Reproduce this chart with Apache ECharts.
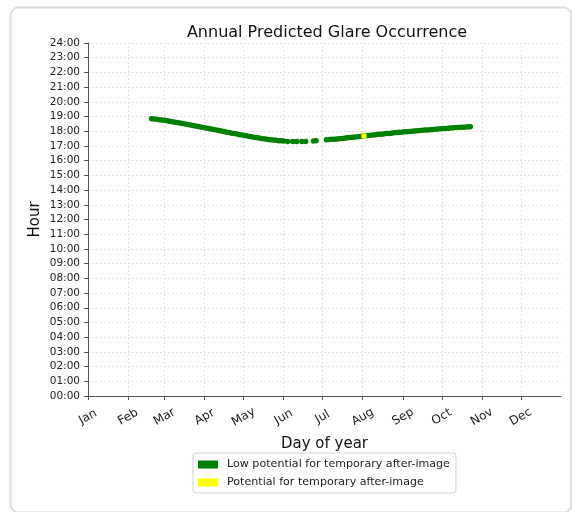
<!DOCTYPE html>
<html>
<head>
<meta charset="utf-8">
<script src="https://cdn.jsdelivr.net/npm/echarts@6/dist/echarts.min.js"></script>
<style>html,body{margin:0;padding:0;background:#fff;}#c{width:572px;height:512px;}</style>
</head>
<body>
<div id="c"></div>
<script>
var monthLabels = ['Jan','Feb','Mar','Apr','May','Jun','Jul','Aug','Sep','Oct','Nov','Dec'];
var monthStarts = [0,31,59,90,120,151,181,212,243,273,304,334];

var greenDays = [49,51,53,55,57,59,61,63,65,67,69,71,73,75,77,79,81,83,85,87,89,91,93,95,97,99,101,103,105,107,109,111,113,115,117,119,121,123,125,127,129,131,133,135,137,139,141,143,145,147,149,151,
  154,158,161,165,168,174,176,184,186,188,190,192,
  194,196,198,200,202,204,206,208,210,212,214,216,218,220,222,224,226,228,230,232,234,236,238,240,242,244,246,248,250,252,254,256,258,260,262,264,266,268,270,272,274,276,278,280,282,284,286,288,290,292,294,295];
var greenHours = [18.85,18.83,18.81,18.79,18.76,18.74,18.71,18.68,18.65,18.62,18.59,18.56,18.53,18.49,18.46,18.43,18.39,18.36,18.33,18.29,18.26,18.22,18.19,18.15,18.12,18.08,18.05,18.01,17.98,17.94,17.91,17.87,17.84,17.81,17.77,17.74,17.71,17.67,17.64,17.61,17.58,17.55,17.52,17.49,17.47,17.44,17.42,17.40,17.38,17.36,17.35,17.33,
  17.31,17.30,17.30,17.30,17.30,17.33,17.36,17.43,17.44,17.45,17.46,17.47,
  17.49,17.51,17.53,17.55,17.57,17.59,17.61,17.63,17.65,17.67,17.69,17.71,17.73,17.75,17.77,17.79,17.80,17.82,17.84,17.85,17.87,17.89,17.91,17.93,17.94,17.96,17.97,17.99,18.00,18.02,18.03,18.05,18.06,18.08,18.09,18.11,18.12,18.14,18.15,18.17,18.18,18.19,18.21,18.22,18.23,18.25,18.26,18.27,18.28,18.29,18.30,18.31];
var yellowDays = [213];
var yellowHours = [17.68];

var seriesNames = ['Low potential for temporary after-image','Potential for temporary after-image'];

function pairs(xs, ys){ var out=[]; for (var i=0;i<xs.length;i++) out.push([xs[i], ys[i]]); return out; }

var chart = echarts.init(document.getElementById('c'), null, {renderer:'canvas'});
var FONT = 'DejaVu Sans';
var GRID = '#e2e2e2';
chart.setOption({
  animation: false,
  backgroundColor: '#fff',
  textStyle: {fontFamily: FONT},
  graphic: [{
    type: 'rect', left: 8, top: 5, z: -10,
    shape: {width: 561, height: 505, r: 8},
    style: {fill: 'none', stroke: '#dcdcdc', lineWidth: 2}
  }],
  title: {
    text: 'Annual Predicted Glare Occurrence',
    left: 322, top: 20, textAlign: 'center',
    textStyle: {fontFamily: FONT, fontSize: 16, fontWeight: 'normal', color: '#111'}
  },
  grid: {left: 88, right: 11, top: 43, bottom: 116, containLabel: false},
  xAxis: {
    type: 'value', min: 0, max: 365,
    name: 'Day of year', nameLocation: 'middle', nameGap: 41,
    nameTextStyle: {fontFamily: FONT, fontSize: 15, color: '#111'},
    axisLine: {show: true, lineStyle: {color: '#555', width: 1}},
    axisTick: {show: true, length: 4, lineStyle: {color: '#555'}, customValues: monthStarts},
    axisLabel: {
      customValues: monthStarts,
      rotate: 30, align: 'center', verticalAlign: 'middle', margin: 21,
      fontFamily: FONT, fontSize: 12, color: '#222',
      formatter: function(v){ var i = monthStarts.indexOf(Math.round(v)); return i >= 0 ? monthLabels[i] : ''; }
    },
    splitLine: {show: false}
  },
  yAxis: {
    type: 'value', min: 0, max: 24, interval: 1,
    name: 'Hour', nameLocation: 'middle', nameGap: 45, nameRotate: 90, nameMoveOverlap: false,
    nameTextStyle: {fontFamily: FONT, fontSize: 15, color: '#111'},
    axisLine: {show: true, lineStyle: {color: '#555', width: 1}},
    axisTick: {show: true, length: 4, lineStyle: {color: '#555'}},
    axisLabel: {
      fontFamily: FONT, fontSize: 10.5, color: '#222', margin: 8,
      formatter: function(v){ var h = Math.round(v); return (h < 10 ? '0' : '') + h + ':00'; }
    },
    splitLine: {show: true, lineStyle: {color: GRID, type: [2, 2], width: 1}}
  },
  legend: {
    orient: 'vertical', left: 193, top: 453,
    borderColor: '#d0d0d0', borderWidth: 1, borderRadius: 3,
    padding: [6, 6, 5, 5], itemGap: 7, itemWidth: 20, itemHeight: 8,
    textStyle: {fontFamily: FONT, fontSize: 11.1, color: '#222', padding: [0, 0, 0, 4]},
    data: [{name: seriesNames[0], icon: 'rect'}, {name: seriesNames[1], icon: 'rect'}]
  },
  series: [
    {
      name: '_grid', type: 'scatter', data: [], silent: true, z: 1,
      markLine: {
        silent: true, symbol: 'none', label: {show: false}, z: 1,
        lineStyle: {color: GRID, type: [2, 2], width: 1},
        data: monthStarts.slice(1).map(function(d){ return {xAxis: d}; })
      }
    },
    {
      name: seriesNames[0], type: 'scatter', symbol: 'circle', symbolSize: 5.5,
      itemStyle: {color: '#008000', opacity: 1},
      data: pairs(greenDays, greenHours),
      z: 3
    },
    {
      name: seriesNames[1], type: 'scatter', symbol: 'rect', symbolSize: 5,
      itemStyle: {color: '#ffff00', opacity: 1},
      data: pairs(yellowDays, yellowHours),
      z: 4
    }
  ]
});
</script>
</body>
</html>
